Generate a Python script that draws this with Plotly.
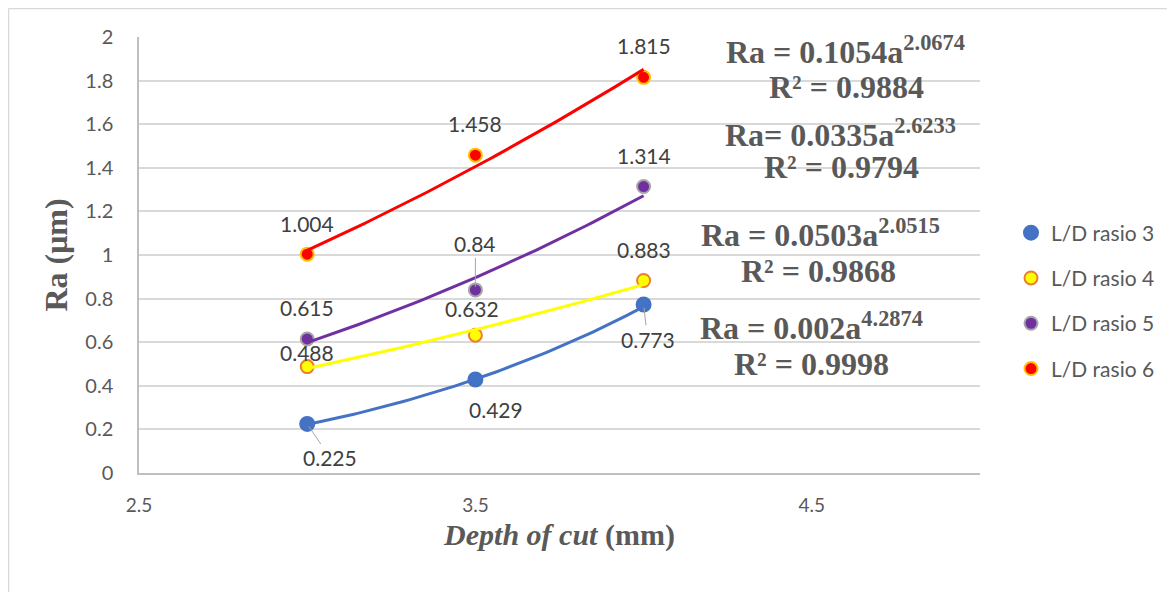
import numpy as np
import plotly.graph_objects as go

# ---------------- data ----------------
depth = [3.0, 3.5, 4.0]
series_names = ["L/D rasio 3", "L/D rasio 4", "L/D rasio 5", "L/D rasio 6"]
ra_ld3 = [0.225, 0.429, 0.773]
ra_ld4 = [0.488, 0.632, 0.883]
ra_ld5 = [0.615, 0.84, 1.314]
ra_ld6 = [1.004, 1.458, 1.815]
fit_coef = [0.002, 0.0503, 0.0335, 0.1054]
fit_exp = [4.2874, 2.0515, 2.6233, 2.0674]
fit_r2 = [0.9998, 0.9868, 0.9794, 0.9884]
eq_prefix = ["Ra = ", "Ra = ", "Ra= ", "Ra = "]
x_ticks = [2.5, 3.5, 4.5]
y_ticks = [0, 0.2, 0.4, 0.6, 0.8, 1, 1.2, 1.4, 1.6, 1.8, 2]
series_values = [ra_ld3, ra_ld4, ra_ld5, ra_ld6]

# ---------------- styles ----------------
OFF = 8                      # page body margin in the browser
W, H = 1175 - OFF, 592 - OFF
PL, PR, PT, PB = 139, 980, 37, 473  # plot area in screen pixels
fill_colors = ["#4472C4", "#FFFF00", "#7030A0", "#FF0000"]
edge_colors = ["#4472C4", "#ED7D31", "#A5A5A5", "#FFC000"]
line_colors = ["#4472C4", "#FFFF00", "#7030A0", "#FF0000"]
marker_sizes = [14, 13, 13, 13]
# label offsets (dx right, dy down) in pixels, and whether a leader line is drawn
label_offsets = [
    [(23, 34, True), (21, 30, False), (4, 35, True)],
    [(0, -14, False), (-3, -27, False), (0, -31, False)],
    [(0, -31, False), (0, -46, True), (0, -31, False)],
    [(0, -31, False), (0, -32, False), (0, -32, False)],
]
eq_pos = [((811, 326), (811, 364)),
          ((820, 233), (818, 271)),
          ((840, 133), (841, 167)),
          ((845, 50), (846, 87))]

TXT = "#595959"
LBL = "#404040"
SANS = "Lato"
SERIF = "Liberation Serif"


def px2paper(px, py):
    return (px - PL) / (PR - PL), (PB - py) / (PB - PT)


fig = go.Figure()

# data markers
for i, name in enumerate(series_names):
    fig.add_trace(go.Scatter(
        x=depth, y=series_values[i], mode="markers", name=name,
        legendgroup=name,
        marker=dict(size=marker_sizes[i], color=fill_colors[i],
                    line=dict(color=edge_colors[i], width=2)),
    ))

# power trendlines (from the equations displayed on the chart)
xf = np.linspace(depth[0], depth[-1], 60)
for i, name in enumerate(series_names):
    yf = fit_coef[i] * xf ** fit_exp[i]
    fig.add_trace(go.Scatter(
        x=xf, y=yf, mode="lines", showlegend=False, hoverinfo="skip",
        line=dict(color=line_colors[i], width=3),
    ))

annotations = []
# data labels
for i in range(len(series_names)):
    for j, (xv, yv) in enumerate(zip(depth, series_values[i])):
        dx, dy, leader = label_offsets[i][j]
        txt = f"{yv:g}"
        if leader:
            annotations.append(dict(
                x=xv, y=yv, xref="x", yref="y", text=txt, showarrow=True,
                arrowhead=0, arrowwidth=1, arrowcolor="#A6A6A6", ax=dx, ay=dy,
                standoff=3, font=dict(family=SANS, size=21, color=LBL)))
        else:
            annotations.append(dict(
                x=xv, y=yv, xref="x", yref="y", text=txt, showarrow=False,
                xshift=dx, yshift=-dy,
                font=dict(family=SANS, size=21, color=LBL)))

# equations
for i in range(len(series_names)):
    (ex, ey), (rx, ry) = eq_pos[i]
    xp, yp = px2paper(ex, ey)
    annotations.append(dict(
        x=xp, y=yp, xref="paper", yref="paper", showarrow=False,
        xanchor="center", yanchor="middle",
        text=f"<b>{eq_prefix[i]}{fit_coef[i]:g}a<sup>{fit_exp[i]:g}</sup></b>",
        font=dict(family=SERIF, size=32, color=TXT)))
    xp, yp = px2paper(rx, ry)
    annotations.append(dict(
        x=xp, y=yp, xref="paper", yref="paper", showarrow=False,
        xanchor="center", yanchor="middle",
        text=f"<b>R² = {fit_r2[i]:g}</b>",
        font=dict(family=SERIF, size=32, color=TXT)))

# outer chart border (left & top visible)
x0, y0 = px2paper(OFF + 0.5, OFF + 0.5)
x1, y1 = px2paper(1175 + 5, 592 + 5)
shapes = [
    dict(type="line", xref="paper", yref="paper", x0=x0, x1=x0, y0=y0, y1=y1,
         line=dict(color="#D9D9D9", width=1.5)),
    dict(type="line", xref="paper", yref="paper", x0=x0, x1=x1, y0=y0, y1=y0,
         line=dict(color="#D9D9D9", width=1.5)),
]

lx, ly = px2paper(1011, 301)

fig.update_layout(
    width=W, height=H,
    margin=dict(l=PL - OFF, r=W - (PR - OFF), t=PT - OFF, b=H - (PB - OFF),
                autoexpand=False),
    paper_bgcolor="white", plot_bgcolor="white",
    showlegend=True,
    legend=dict(x=lx, y=ly, xanchor="left", yanchor="middle",
                font=dict(family=SANS, size=21, color=TXT),
                tracegroupgap=15, bgcolor="rgba(0,0,0,0)"),
    annotations=annotations,
    shapes=shapes,
    xaxis=dict(range=[2.5, 5.0], tickvals=x_ticks, ticktext=[f"{v:g}" for v in x_ticks],
               showgrid=False, zeroline=False, showline=True,
               linecolor="#BFBFBF", linewidth=1.5, ticks="",
               ticklabelstandoff=14,
               tickfont=dict(family=SANS, size=19, color=TXT),
               title=dict(text="<b><i>Depth of cut</i> (mm)</b>",
                          font=dict(family=SERIF, size=30, color=TXT),
                          standoff=9)),
    yaxis=dict(range=[0, 2], tickvals=y_ticks, ticktext=[f"{v:g}" for v in y_ticks],
               showgrid=True, gridcolor="#D9D9D9", gridwidth=1.5,
               zeroline=False, showline=True, linecolor="#BFBFBF", linewidth=1.5,
               ticks="", ticklabelstandoff=20,
               tickfont=dict(family=SANS, size=20, color=TXT),
               title=dict(text="<b>Ra (μm)</b>",
                          font=dict(family=SERIF, size=32, color=TXT),
                          standoff=8)),
)

fig.write_html("out.html")
